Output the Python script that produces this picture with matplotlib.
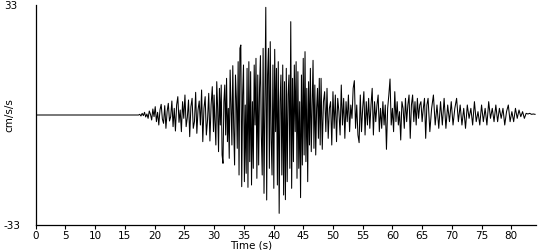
import numpy as np
import matplotlib
matplotlib.use("Agg")
import matplotlib.pyplot as plt

# ---- data (cm/s/s) ----
# quiet part before the P arrival
t_quiet = [0.0, 17.3]
a_quiet = [0.0, 0.0]

# onset 17.5 .. 30 s, 0.2 s between samples
t0_onset, dt_onset = 17.5, 0.2
a_onset = [0.2, -0.3, 0.5, -0.2, 0.8, -0.6, 0.3, -1.0, 1.2, 0.2,
           -1.5, 1.8, -0.5, 2.5, -2.0, 0.8, -3.0, 1.5, 3.2, -1.2,
           -2.5, 2.8, -4.0, 1.0, 3.5, -1.8, -0.5, 4.2, -3.5, 2.0,
           -4.8, 3.0, 5.5, -2.2, 1.5, -5.0, 4.0, -1.0, 6.0, -3.5,
           -0.8, 4.5, -6.5, 2.5, 5.0, -4.0, -2.0, 6.8, -5.5, 1.5,
           4.2, -3.0, 7.5, -8.0, 2.0, 5.5, -6.0, -1.5, 6.5, -7.8,
           3.0, 8.5, -5.0]

# strong motion 30 .. 48 s, 0.15 s between samples
t0_strong, dt_strong = 30.0, 0.15
a_strong = [6, -2, -9, 10, 2, -11, 8, -3, 9, -12,
            -14.5, 4, 9, -6, 11, -8, 2, -13, 13.5, 3,
            -9, 14.8, -4, -15, 12, 5, -10, 16, -18, 20,
            21, -21.5, 6, 15, -20, 3, -17.5, 14, -21.7, 16,
            -14, 13, -21, 4, -16, 15, -3, 17, -19, 12,
            -15, 8, 17.8, -6, -18, 20, -23.5, 5, 32.3, -25.5,
            12, 20, -16, 22, -7, -18, 15, -22, 19.7, -5,
            14, -21, 16, -29.5, 4, 12, -18, 15, -24, 10,
            -25.4, 14, -20, 6, 12, -16, 28, -22, 11, -14,
            15, -5, 16, -19, 13, -16, 4, -24.8, 12, -15,
            17, -12, 19, -14, 8, -20, 10, -9, 14, -11,
            3, 16.4, -10, 9, -12, 2, 8, -7, 11, -9]

# coda 48 .. 66 s, 0.2 s between samples
t0_coda, dt_coda = 48.0, 0.2
a_coda = [11, -10.3, 4, 7, -5, 8, -7, 2, 4, -9,
          7, -4, 6, -8, 5, 1, -6, 9, -3, 5,
          -7, 4, -2, 6, -5, 3, -1, 8, 10.3, -4,
          3, -6, -8.3, 6, -5, 2, 7, -6, 4, -3,
          5, -4, 3, 8, -6, 4, -2, 3, 6, -5,
          2, -4, 4, -3, 3, -10.3, 2, 6, 10.8, -3,
          2, -5, 7, -2, 4, -3, 1, -7.5, 4, 2,
          -4, 5, -2, 3, 6, -7, 3, 6, -2, 4,
          -3, 5, -1, 3, 4, -2, 2, 5, -7, 3]

# late coda 66 .. 84 s, 0.3 s between samples
t0_tail, dt_tail = 66.0, 0.3
a_tail = [5, -5, 2, 6, -3, 3, -4, 4, -3, 5,
          -4, 3, -2, 4, -3, 2, 5, -2, 3, -3,
          2, -4, 3, -1, 2, -3, 4, -2, 1, -3,
          3, -2, 2, -3, 4, -1, 2, -2, 3, -2,
          2, -1, 2, -3, 1, 3, -2, 1, -2, 2,
          -1, 1.5, -0.5, 1, -1, 0.5, 0.3, 0.5, 0.2, 0.3,
          0.2]

x_ticks = list(range(0, 85, 5))
y_labels = [-33, 33]


def sample_times(t0, dt, vals):
    return t0 + dt * np.arange(len(vals))


t = np.concatenate([t_quiet,
                    sample_times(t0_onset, dt_onset, a_onset),
                    sample_times(t0_strong, dt_strong, a_strong),
                    sample_times(t0_coda, dt_coda, a_coda),
                    sample_times(t0_tail, dt_tail, a_tail)])
a = np.concatenate([a_quiet, a_onset, a_strong, a_coda, a_tail])

fig = plt.figure(figsize=(5.5, 2.5), dpi=100)
ax = fig.add_axes([0.065, 0.1, 0.91, 0.88])
ax.plot(t, a, color="black", lw=0.75)

ax.set_xlim(0, 84.2)
ax.set_ylim(-33, 33)
for s in ("top", "right"):
    ax.spines[s].set_visible(False)
for s in ("left", "bottom"):
    ax.spines[s].set_linewidth(0.9)

ax.set_xticks(x_ticks)
ax.tick_params(axis="x", length=3, width=0.8, pad=1, labelsize=7.5)
ax.set_yticks(y_labels)
ax.set_yticklabels([str(v) for v in y_labels], ha="left")
ax.tick_params(axis="y", length=0, pad=23, labelsize=7.5)

ax.set_xlabel("Time (s)", fontsize=7.5, va="center")
ax.xaxis.set_label_coords(0.43, -0.092)
ax.set_ylabel("cm/s/s", fontsize=7.5)
ax.yaxis.set_label_coords(-0.043, 0.5)

fig.savefig("out.png", dpi=100)
